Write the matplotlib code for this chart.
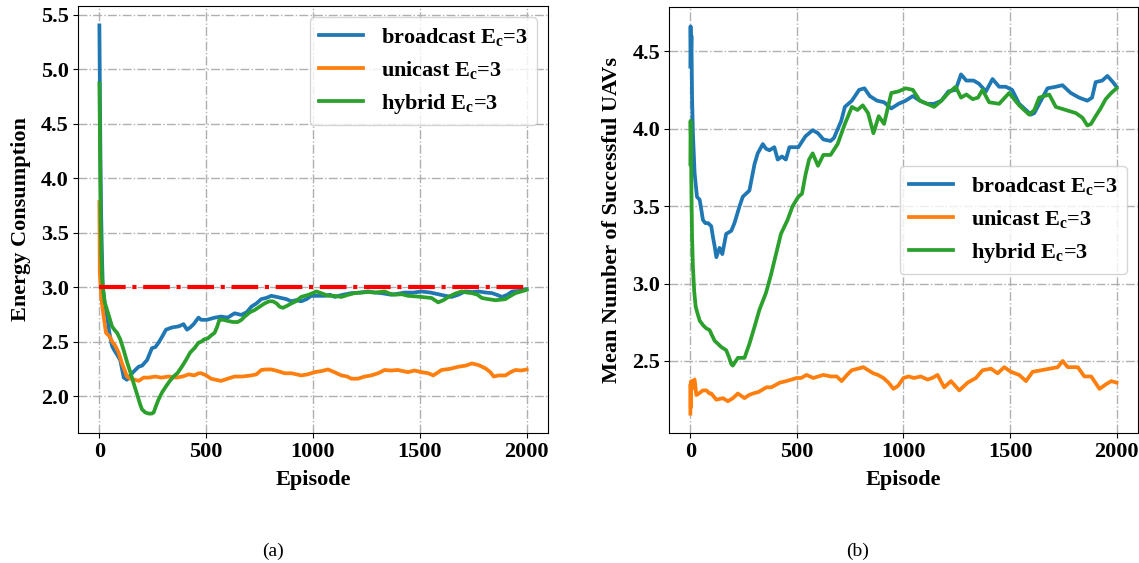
import matplotlib
matplotlib.use("Agg")
import matplotlib.pyplot as plt
import numpy as np

# ---------------- data (episode, value) ----------------
a_broadcast = [(0,5.40),(2,4.90),(5,4.20),(8,3.70),(12,3.30),(16,3.00),(25,2.85),(36,2.73),(47,2.58),
    (59,2.46),(70,2.42),(83,2.38),(98,2.33),(106,2.25),(114,2.17),(122,2.16),(129,2.15),(140,2.18),
    (153,2.21),(168,2.24),(184,2.27),(200,2.28),(223,2.33),(246,2.44),(262,2.45),(277,2.49),(295,2.55),
    (312,2.61),(340,2.63),(371,2.64),(394,2.66),(410,2.61),(425,2.63),(441,2.66),(464,2.72),(477,2.70),
    (503,2.70),(540,2.72),(570,2.73),(600,2.72),(633,2.76),(664,2.745),(690,2.77),(711,2.82),(735,2.85),
    (758,2.89),(780,2.90),(805,2.92),(830,2.91),(852,2.90),(875,2.89),(898,2.87),(920,2.88),(945,2.87),
    (970,2.89),(992,2.92),(1020,2.92),(1055,2.92),(1080,2.93),(1102,2.91),(1140,2.93),(1180,2.945),
    (1220,2.95),(1258,2.96),(1290,2.95),(1320,2.945),(1366,2.93),(1400,2.94),(1429,2.95),(1470,2.95),
    (1508,2.96),(1550,2.95),(1586,2.935),(1620,2.92),(1649,2.91),(1680,2.93),(1712,2.96),(1745,2.955),
    (1775,2.96),(1810,2.95),(1838,2.945),(1860,2.93),(1885,2.91),(1910,2.93),(1932,2.96),(1965,2.965),
    (2000,2.98)]

a_unicast = [(0,3.78),(2,3.13),(6,3.00),(12,2.85),(20,2.73),(31,2.58),(47,2.55),(60,2.50),(75,2.46),
    (90,2.40),(106,2.30),(118,2.24),(129,2.18),(145,2.16),(168,2.15),(184,2.14),(207,2.17),(230,2.17),
    (262,2.18),(290,2.17),(324,2.18),(360,2.17),(390,2.18),(418,2.20),(445,2.19),(464,2.21),(477,2.21),
    (500,2.19),(523,2.16),(545,2.15),(570,2.14),(600,2.16),(633,2.18),(670,2.18),(711,2.19),(735,2.20),
    (758,2.24),(780,2.245),(805,2.245),(835,2.23),(867,2.21),(900,2.21),(945,2.19),(975,2.20),(1008,2.22),
    (1040,2.23),(1070,2.245),(1100,2.22),(1133,2.19),(1160,2.18),(1180,2.16),(1210,2.16),(1242,2.18),
    (1272,2.19),(1305,2.21),(1335,2.24),(1365,2.235),(1398,2.24),(1420,2.23),(1445,2.22),(1475,2.235),
    (1508,2.22),(1540,2.21),(1563,2.19),(1602,2.24),(1640,2.25),(1681,2.27),(1715,2.28),(1744,2.30),
    (1775,2.285),(1807,2.255),(1830,2.22),(1846,2.18),(1870,2.19),(1901,2.19),(1925,2.22),(1948,2.24),
    (1975,2.235),(2000,2.245)]

a_hybrid = [(0,4.87),(2,4.50),(4,4.00),(6,3.60),(9,3.30),(12,3.10),(16,3.00),(25,2.86),(36,2.79),
    (47,2.72),(59,2.64),(70,2.61),(83,2.58),(98,2.52),(114,2.42),(130,2.31),(145,2.22),(160,2.12),
    (176,2.02),(190,1.93),(199,1.88),(215,1.85),(231,1.84),(245,1.84),(254,1.85),(265,1.91),(277,1.97),
    (295,2.04),(312,2.09),(330,2.14),(347,2.18),(365,2.21),(386,2.27),(405,2.33),(425,2.40),(445,2.44),
    (464,2.49),(477,2.50),(490,2.52),(508,2.53),(525,2.56),(539,2.58),(550,2.63),(562,2.70),(580,2.70),
    (601,2.69),(625,2.68),(648,2.68),(665,2.70),(680,2.73),(705,2.77),(727,2.79),(750,2.82),(773,2.85),
    (795,2.87),(812,2.87),(830,2.85),(844,2.82),(859,2.81),(880,2.83),(898,2.85),(920,2.87),(945,2.91),
    (980,2.93),(1016,2.96),(1045,2.94),(1070,2.92),(1100,2.92),(1133,2.91),(1165,2.93),(1195,2.945),
    (1230,2.95),(1258,2.955),(1290,2.95),(1335,2.96),(1360,2.94),(1382,2.93),(1415,2.935),(1445,2.92),
    (1480,2.915),(1508,2.91),(1555,2.90),(1586,2.86),(1610,2.88),(1634,2.91),(1665,2.94),(1696,2.96),
    (1720,2.95),(1744,2.945),(1770,2.93),(1791,2.90),(1820,2.89),(1854,2.88),(1880,2.885),(1901,2.89),
    (1925,2.92),(1948,2.945),(1975,2.96),(2000,2.975)]

b_broadcast = [(0,4.40),(1,4.66),(3,4.45),(5,4.60),(8,4.20),(12,3.97),(20,3.71),(31,3.56),(44,3.54),
    (59,3.41),(70,3.39),(83,3.39),(98,3.37),(106,3.30),(114,3.24),(122,3.17),(137,3.23),(150,3.19),
    (168,3.32),(192,3.34),(207,3.39),(231,3.50),(246,3.56),(277,3.60),(301,3.77),(316,3.84),(340,3.90),
    (355,3.87),(371,3.86),(394,3.88),(410,3.80),(430,3.82),(448,3.80),(465,3.88),(507,3.88),(540,3.95),
    (574,3.99),(599,3.97),(624,3.93),(658,3.92),(674,3.94),(708,4.05),(725,4.14),(758,4.18),(792,4.25),
    (817,4.26),(842,4.21),(876,4.18),(909,4.17),(943,4.13),(977,4.16),(1010,4.18),(1044,4.21),(1077,4.18),
    (1111,4.16),(1144,4.16),(1178,4.18),(1211,4.24),(1245,4.25),(1270,4.35),(1295,4.31),(1329,4.31),
    (1354,4.29),(1387,4.24),(1418,4.32),(1449,4.27),(1480,4.27),(1510,4.25),(1543,4.16),(1575,4.12),
    (1598,4.09),(1614,4.10),(1637,4.16),(1676,4.26),(1715,4.27),(1746,4.28),(1785,4.23),(1824,4.20),
    (1863,4.18),(1885,4.20),(1902,4.30),(1933,4.31),(1957,4.34),(1983,4.30),(2000,4.27)]

b_unicast = [(0,2.16),(1,2.35),(2,2.20),(4,2.37),(8,2.32),(14,2.37),(20,2.38),(28,2.28),(40,2.29),
    (59,2.31),(75,2.31),(90,2.29),(98,2.29),(122,2.25),(153,2.26),(176,2.24),(200,2.26),(223,2.29),
    (254,2.26),(275,2.28),(294,2.29),(320,2.30),(357,2.33),(380,2.33),(420,2.36),(450,2.37),(475,2.38),
    (498,2.39),(520,2.39),(545,2.41),(577,2.39),(600,2.40),(624,2.41),(660,2.40),(687,2.40),(710,2.37),
    (735,2.41),(757,2.44),(785,2.45),(812,2.46),(835,2.44),(859,2.42),(880,2.41),(906,2.39),(930,2.36),
    (953,2.32),(975,2.34),(1000,2.39),(1024,2.40),(1050,2.39),(1081,2.40),(1113,2.38),(1135,2.39),
    (1160,2.41),(1191,2.33),(1223,2.37),(1262,2.31),(1301,2.36),(1340,2.39),(1371,2.44),(1411,2.45),
    (1442,2.42),(1473,2.46),(1504,2.43),(1543,2.41),(1575,2.37),(1606,2.43),(1646,2.44),(1685,2.45),
    (1724,2.46),(1747,2.50),(1771,2.46),(1818,2.46),(1849,2.40),(1881,2.40),(1920,2.32),(1951,2.35),
    (1975,2.37),(2000,2.36)]

b_hybrid = [(0,3.77),(1,4.05),(3,3.90),(5,3.60),(8,3.30),(12,3.11),(18,2.95),(25,2.85),(35,2.80),
    (44,2.76),(60,2.73),(75,2.71),(90,2.70),(100,2.67),(114,2.63),(130,2.61),(145,2.59),(168,2.57),
    (180,2.53),(192,2.48),(199,2.47),(223,2.52),(254,2.52),(277,2.61),(301,2.72),(324,2.83),(355,2.94),
    (379,3.06),(402,3.19),(425,3.32),(456,3.41),(480,3.50),(507,3.56),(524,3.58),(540,3.70),(557,3.80),
    (574,3.84),(599,3.76),(624,3.83),(658,3.83),(691,3.90),(725,4.03),(758,4.14),(784,4.12),(809,4.15),
    (834,4.10),(859,3.97),(884,4.08),(909,4.03),(943,4.23),(977,4.24),(1010,4.26),(1044,4.25),(1077,4.18),
    (1111,4.16),(1144,4.14),(1178,4.18),(1211,4.23),(1245,4.27),(1270,4.20),(1295,4.22),(1325,4.19),
    (1350,4.20),(1371,4.25),(1402,4.17),(1449,4.16),(1496,4.23),(1543,4.15),(1590,4.09),(1614,4.12),
    (1637,4.20),(1684,4.22),(1715,4.14),(1762,4.12),(1809,4.10),(1840,4.07),(1863,4.02),(1880,4.03),
    (1902,4.08),(1925,4.13),(1949,4.19),(1975,4.23),(2000,4.26)]

series_labels = [r"broadcast $\mathbf{E_c}$=3", r"unicast $\mathbf{E_c}$=3", r"hybrid $\mathbf{E_c}$=3"]
series_colors = ["#1f77b4", "#ff7f0e", "#2ca02c"]
energy_threshold = 3.0
y_labels = ["Energy Consumption", "Mean Number of Successful UAVs"]
x_label = "Episode"
panel_tags = ["(a)", "(b)"]

# ---------------- style ----------------
plt.rcParams["font.family"] = ["Liberation Serif", "DejaVu Serif"]
plt.rcParams["font.weight"] = "bold"
plt.rcParams["mathtext.fontset"] = "custom"
plt.rcParams["mathtext.rm"] = "Liberation Serif:bold"
plt.rcParams["mathtext.bf"] = "Liberation Serif:bold"
plt.rcParams["mathtext.it"] = "Liberation Serif:bold:italic"

FS = 16
fig = plt.figure(figsize=(11.39, 5.63), dpi=100)
ax1 = fig.add_axes([0.0685, 0.2309, 0.4126, 0.7584])
ax2 = fig.add_axes([0.5874, 0.2309, 0.4116, 0.7567])


def draw(ax, data_list, ylabel, legend_loc):
    for data, lab, col in zip(data_list, series_labels, series_colors):
        ep = np.array([p[0] for p in data])
        val = np.array([p[1] for p in data])
        ax.plot(ep, val, color=col, lw=2.7, label=lab)
    ax.grid(True, linestyle="-.", color="#b0b0b0", lw=1.0)
    ax.set_axisbelow(True)
    ax.set_xlabel(x_label, fontsize=FS, fontweight="bold", labelpad=6)
    ax.set_ylabel(ylabel, fontsize=FS, fontweight="bold", labelpad=7)
    ax.tick_params(labelsize=FS, pad=3)
    leg = ax.legend(loc=legend_loc, prop={"weight": "bold", "size": FS}, labelspacing=0.5)
    return leg


draw(ax1, [a_broadcast, a_unicast, a_hybrid], y_labels[0], "upper right")
ep_all = [p[0] for p in a_broadcast]
ax1.hlines(energy_threshold, min(ep_all), max(ep_all), colors="red", linestyles="-.", lw=3, zorder=3)

draw(ax2, [b_broadcast, b_unicast, b_hybrid], y_labels[1], "center right")

for ax in (ax1, ax2):
    for t in ax.get_xticklabels() + ax.get_yticklabels():
        t.set_fontweight("bold")

fig.text(273 / 1139, 1 - 551 / 563, panel_tags[0], ha="center", va="center", fontsize=14, fontweight="normal")
fig.text(858 / 1139, 1 - 551 / 563, panel_tags[1], ha="center", va="center", fontsize=14, fontweight="normal")

fig.savefig("out.png", dpi=100)
